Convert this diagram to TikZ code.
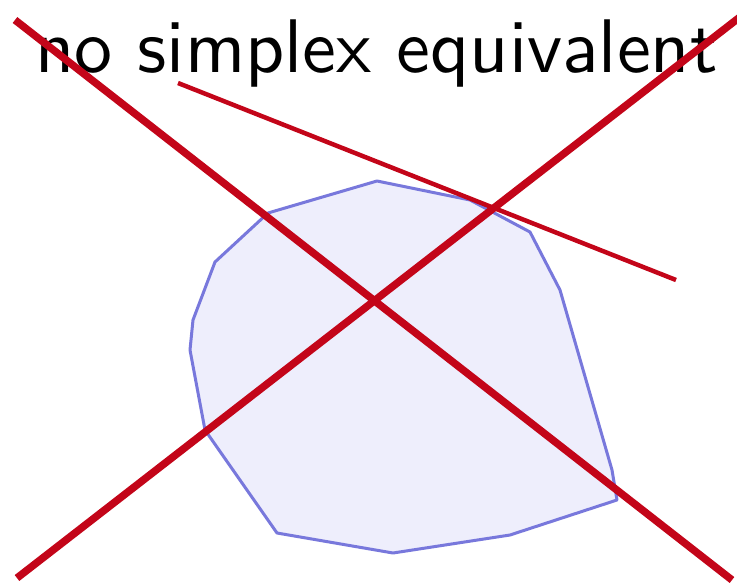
\documentclass[tikz,border=0pt]{standalone}
\usepackage{graphicx}
\definecolor{xred}{RGB}{195,5,25}
\definecolor{pblue}{RGB}{120,120,220}
\definecolor{pfill}{RGB}{238,238,252}
\tikzset{
  bigcross/.style={draw=xred,line width=7.5pt},
  thinline/.style={draw=xred,line width=4.5pt},
  poly/.style={draw=pblue,fill=pfill,line width=3pt,line join=round}
}
\begin{document}
\begin{tikzpicture}[x=1pt,y=-1pt]
\useasboundingbox (0,0) rectangle (737,584);
\fill[white] (0,0) rectangle (737,584);
\node[anchor=base west,inner sep=0pt] (title) at (35,72) {\resizebox{682pt}{!}{\sffamily no simplex equivalent}};
\draw[poly] (377,181) -- (470,200) -- (530,232) -- (560,290) -- (612,470) -- (617,500) -- (510,535) -- (393,553) -- (277,533) -- (205,430) -- (190,350) -- (193,320) -- (215,262) -- (268,213) -- cycle;
\coordinate (a1) at (15,20);
\coordinate (a2) at (732,580);
\coordinate (b1) at (17,578);
\coordinate (b2) at (740,17);
\coordinate (c1) at (178,83);
\coordinate (c2) at (676,280);
\draw[thinline] (c1) -- (c2);
\draw[bigcross] (a1) -- (a2);
\draw[bigcross] (b1) -- (b2);
\end{tikzpicture}
\end{document}
